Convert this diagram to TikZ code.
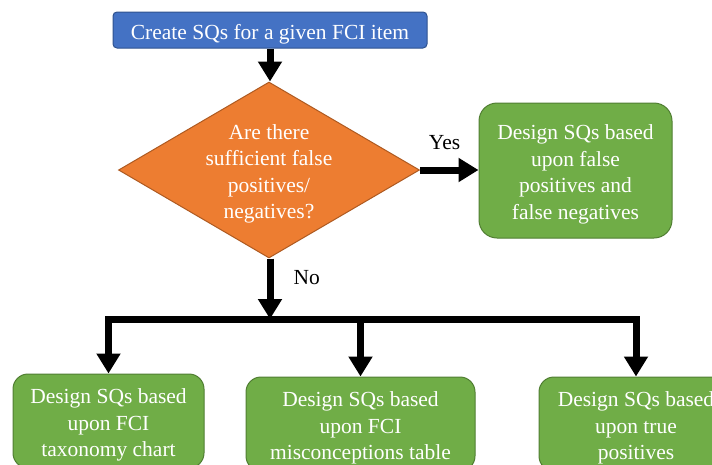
\documentclass[tikz,border=0pt]{standalone}
\usepackage{fontspec}
\setmainfont{Liberation Serif}
\usetikzlibrary{arrows.meta,shapes.geometric}
\definecolor{sqblue}{HTML}{4472C4}
\definecolor{sqblueline}{HTML}{2F528F}
\definecolor{sqorange}{HTML}{ED7D31}
\definecolor{sqorangeline}{HTML}{AE5A21}
\definecolor{sqgreen}{HTML}{70AD47}
\definecolor{sqgreenline}{HTML}{507E32}
\newcommand{\sqfont}{\fontsize{21.5}{26.5}\selectfont}
\newcommand{\sqstrut}{\rule{0pt}{23pt}}

\begin{document}
\begin{tikzpicture}[x=1pt, y=-1pt,
	sqtext/.style={font=\sqfont, text=white, align=center, inner sep=0pt},
	sqlabel/.style={font=\sqfont, text=black, inner sep=0pt},
	startbox/.style={sqtext, draw=sqblueline, fill=sqblue, line width=1pt, rounded corners=4pt, minimum width=314pt, minimum height=36pt},
	question/.style={sqtext, diamond, draw=sqorangeline, fill=sqorange, line width=1pt, aspect=1.7, inner xsep=-8pt, inner ysep=-4pt, minimum width=301pt, minimum height=176pt},
	designbox/.style={sqtext, draw=sqgreenline, fill=sqgreen, line width=1pt, rounded corners=15pt, minimum height=94pt},
	flow/.style={line width=7pt, -{Triangle[width=23pt,length=20pt]}}]
			%%%%% START %%%%%
			
			\path[use as bounding box, clip] (0, 0) rectangle (712, 464);
			
			\node[startbox] (create) at (270, 30) {\sqstrut Create SQs for a given FCI item};
			\node[question] (ask) at (269, 170) {\sqstrut Are there\\sufficient false\\positives/\\negatives?};
			
			\node[designbox, minimum width=193pt, minimum height=135pt, rounded corners=18pt] (falsepn) at (575.5, 170.5) {\sqstrut Design SQs based\\upon false\\positives and\\false negatives};
			
			\node[designbox, minimum width=191pt] (taxonomy) at (108.5, 421) {\sqstrut Design SQs based\\upon FCI\\taxonomy chart};
			\node[designbox, minimum width=229pt] (misconc) at (360.5, 424) {\sqstrut Design SQs based\\upon FCI\\misconceptions table};
			\node[designbox, minimum width=194pt] (truepos) at (636, 424) {\sqstrut Design SQs based\\upon true\\positives};
			
			\coordinate (split) at (270, 319);
			
			\draw[flow] (create.south) -- (create.south |- ask.north);
			\draw[flow] (ask.east) -- (ask.east -| falsepn.west) node[sqlabel, pos=0.42, above=17pt] {Yes};
			\draw[flow] (ask.south -| split) -- (split) node[sqlabel, pos=0.31, right=20pt] {No};
			
			\draw[flow] (split) -| (taxonomy.north);
			\draw[flow] (split) -| (truepos.north);
			\draw[flow] (misconc.north |- split) -- (misconc.north);
			
			%%%%% END %%%%%
\end{tikzpicture}
\end{document}
